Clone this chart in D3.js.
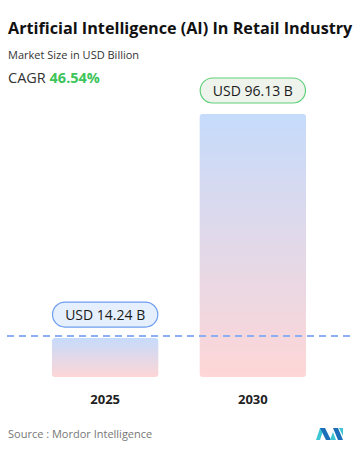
<!DOCTYPE html>
<html>
<head>
<meta charset="utf-8">
<script src="https://cdn.jsdelivr.net/npm/d3@7"></script>
<style>
  body { margin: 0; background: #fff; }
  svg { display: block; font-family: "Open Sans", "Noto Sans", sans-serif; }
</style>
</head>
<body>
<div id="grafico"></div>
<script>
// dados
const anos = ['2025', '2030'];
const valores = [14.24, 96.13];
const rotulos = ['USD 14.24 B', 'USD 96.13 B'];
const cagr = '46.54%';

const largura = 359;
const altura = 449;

const svg = d3.select('#grafico')
  .append('svg')
  .attr('width', largura)
  .attr('height', altura);

// gradiente das barras
const defs = svg.append('defs');
const grad = defs.append('linearGradient')
  .attr('id', 'gradBarra')
  .attr('x1', 0).attr('y1', 0).attr('x2', 0).attr('y2', 1);
grad.append('stop').attr('offset', '0%').attr('stop-color', '#c6dbfb');
grad.append('stop').attr('offset', '100%').attr('stop-color', '#fed6d6');

// escalas
const escalaX = d3.scaleBand()
  .domain(anos)
  .range([52, 306])
  .paddingInner(0.28)
  .paddingOuter(0);

const escalaY = d3.scaleLinear()
  .domain([0, d3.max(valores)])
  .range([377, 114]);

// títulos
svg.append('text')
  .attr('x', 8).attr('y', 34)
  .style('font-size', '16.2px')
  .style('font-weight', 700)
  .attr('fill', '#111')
  .text('Artificial Intelligence (AI) In Retail Industry');

svg.append('text')
  .attr('x', 8).attr('y', 59)
  .style('font-size', '11px')
  .attr('fill', '#333')
  .text('Market Size in USD Billion');

const t = svg.append('text')
  .attr('x', 8).attr('y', 83)
  .style('font-size', '14.5px')
  .attr('fill', '#333');
t.append('tspan').text('CAGR ');
t.append('tspan').attr('fill', '#3dc45a').style('font-weight', 700).text(cagr);

// barras
const dados = anos.map((a, i) => ({ ano: a, valor: valores[i], rotulo: rotulos[i] }));

svg.selectAll('rect.barra')
  .data(dados)
  .join('rect')
  .attr('class', 'barra')
  .attr('x', d => escalaX(d.ano))
  .attr('y', d => escalaY(d.valor))
  .attr('width', escalaX.bandwidth())
  .attr('height', d => escalaY(0) - escalaY(d.valor))
  .attr('rx', 3)
  .attr('fill', 'url(#gradBarra)');

// linha tracejada
svg.append('line')
  .attr('x1', 7).attr('x2', 352)
  .attr('y1', escalaY(valores[0]) - 2).attr('y2', escalaY(valores[0]) - 2)
  .attr('stroke', '#8eaef3')
  .attr('stroke-width', 2)
  .attr('stroke-dasharray', '7,5');

// rótulos
const cores = [
  { borda: '#6d9ef0', fundo: '#e5effd' },
  { borda: '#5fd07a', fundo: '#eef3ec' }
];
const rot = svg.selectAll('g.rotulo')
  .data(dados)
  .join('g')
  .attr('class', 'rotulo')
  .attr('transform', d => `translate(${escalaX(d.ano)}, ${escalaY(d.valor) - 36})`);

rot.append('rect')
  .attr('x', 0.5).attr('y', 0)
  .attr('width', escalaX.bandwidth() - 1)
  .attr('height', 25)
  .attr('rx', 12.5)
  .attr('fill', (d, i) => cores[i].fundo)
  .attr('stroke', (d, i) => cores[i].borda)
  .attr('stroke-width', 1.2);

rot.append('text')
  .attr('x', escalaX.bandwidth() / 2)
  .attr('y', 18)
  .attr('text-anchor', 'middle')
  .style('font-size', '14px')
  .attr('fill', '#1a1a1a')
  .text(d => d.rotulo);

// eixo x
const eixo = svg.append('g')
  .attr('transform', `translate(0, ${escalaY(0)})`)
  .call(d3.axisBottom(escalaX).tickSize(0).tickPadding(18));
eixo.select('.domain').remove();
eixo.selectAll('text')
  .style('font-size', '13px')
  .style('font-weight', 700)
  .style('font-family', '"Open Sans", sans-serif')
  .attr('fill', '#222');

// fonte
svg.append('text')
  .attr('x', 8).attr('y', 438)
  .style('font-size', '11px')
  .attr('fill', '#777')
  .text('Source : Mordor Intelligence');

// logo
const logo = svg.append('g').attr('transform', 'translate(316, 426)');
logo.append('path').attr('d', 'M0,14 L4,2 L8,2 L4,14 Z').attr('fill', '#3ec6d4');
logo.append('path').attr('d', 'M4,2 L9,2 L15,14 L10,14 Z').attr('fill', '#1b6fb8');
logo.append('path').attr('d', 'M14,14 L17,6 L20,14 Z').attr('fill', '#3ec6d4');
logo.append('path').attr('d', 'M17,2 L22,2 L27,14 L22,14 Z').attr('fill', '#1b6fb8');
logo.append('path').attr('d', 'M23,2 L27,2 L27,10 Z').attr('fill', '#3ec6d4');
</script>
</body>
</html>
